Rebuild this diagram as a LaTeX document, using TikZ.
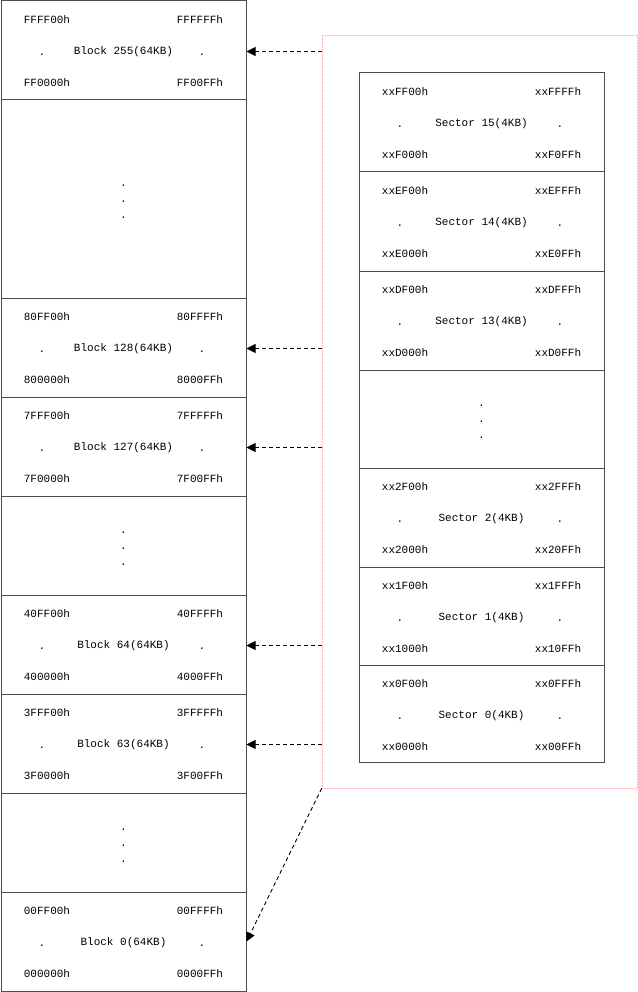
\documentclass[tikz,border=0pt]{standalone}
\usepackage{fontspec}
\setmainfont{Liberation Mono}
\usetikzlibrary{arrows.meta}
\tikzset{
  cell/.style={draw=black!70, line width=1pt, rectangle, inner sep=0pt, minimum width=245pt, minimum height=99pt},
  lbl/.style={inner sep=0pt, font=\fontsize{11}{12}\selectfont},
  pinkbox/.style={draw=red!30, densely dotted, line width=0.6pt, rectangle, inner sep=0pt},
  link/.style={dashed, dash pattern=on 4pt off 3pt, line width=0.9pt, -{Triangle[length=9pt,width=9pt]}}
}
% #1 name, #2 left x, #3 top y, #4 height, #5 center text, #6 TL, #7 TR, #8 BL, #9 BR
\newcommand{\mblk}[9]{%
  \node[cell, minimum height=#4pt] (#1) at ({#2+122.5},{#3+#4/2}) {};
  \node[lbl] (#1tl) at ({#2+46},{#3+18.5}) {#6};
  \node[lbl] (#1tr) at ({#2+199},{#3+18.5}) {#7};
  \node[lbl] (#1dl) at ({#2+41},{#3+54}) {.};
  \node[lbl] (#1c)  at ({#2+122.5},{#3+50.5}) {#5};
  \node[lbl] (#1dr) at ({#2+201},{#3+54}) {.};
  \node[lbl] (#1bl) at ({#2+46},{#3+82}) {#8};
  \node[lbl] (#1br) at ({#2+199},{#3+82}) {#9};
}
% #1 name, #2 left x, #3 top y, #4 height
\newcommand{\mgap}[4]{%
  \node[cell, minimum height=#4pt] (#1) at ({#2+122.5},{#3+#4/2}) {};
  \node[lbl] (#1a) at ({#2+122.5},{#3+#4/2-13}) {.};
  \node[lbl] (#1b) at ({#2+122.5},{#3+#4/2+3}) {.};
  \node[lbl] (#1c) at ({#2+122.5},{#3+#4/2+19}) {.};
}
\begin{document}
\begin{tikzpicture}[x=1pt,y=-1pt]
\useasboundingbox (0,0) rectangle (637,992);
% left column
\mblk{b255}{1}{1}{99}{Block 255(64KB)}{FFFF00h}{FFFFFFh}{FF0000h}{FF00FFh}
\mgap{g1}{1}{100}{198}
\mblk{b128}{1}{298}{99}{Block 128(64KB)}{80FF00h}{80FFFFh}{800000h}{8000FFh}
\mblk{b127}{1}{397}{99}{Block 127(64KB)}{7FFF00h}{7FFFFFh}{7F0000h}{7F00FFh}
\mgap{g2}{1}{496}{99}
\mblk{b64}{1}{595}{99}{Block 64(64KB)}{40FF00h}{40FFFFh}{400000h}{4000FFh}
\mblk{b63}{1}{694}{99}{Block 63(64KB)}{3FFF00h}{3FFFFFh}{3F0000h}{3F00FFh}
\mgap{g3}{1}{793}{99}
\mblk{b0}{1}{892}{99}{Block 0(64KB)}{00FF00h}{00FFFFh}{000000h}{0000FFh}
% pink region
\node[pinkbox, minimum width=315pt, minimum height=753pt] (pk) at (479.5,411.5) {};
% sector column
\mblk{s15}{359}{73}{99}{Sector 15(4KB)}{xxFF00h}{xxFFFFh}{xxF000h}{xxF0FFh}
\mblk{s14}{359}{172}{99}{Sector 14(4KB)}{xxEF00h}{xxEFFFh}{xxE000h}{xxE0FFh}
\mblk{s13}{359}{271}{99}{Sector 13(4KB)}{xxDF00h}{xxDFFFh}{xxD000h}{xxD0FFh}
\mgap{sg}{359}{370}{98}
\mblk{s2}{359}{468}{99}{Sector 2(4KB)}{xx2F00h}{xx2FFFh}{xx2000h}{xx20FFh}
\mblk{s1}{359}{567}{98}{Sector 1(4KB)}{xx1F00h}{xx1FFFh}{xx1000h}{xx10FFh}
\mblk{s0}{359}{665}{97}{Sector 0(4KB)}{xx0F00h}{xx0FFFh}{xx0000h}{xx00FFh}
% links
\draw[link] (pk.west |- b255c) -- (b255.east |- b255c);
\draw[link] (pk.west |- b128c) -- (b128.east |- b128c);
\draw[link] (pk.west |- b127c) -- (b127.east |- b127c);
\draw[link] (pk.west |- b64c) -- (b64.east |- b64c);
\draw[link] (pk.west |- b63c) -- (b63.east |- b63c);
\draw[link] (pk.south west) -- (b0.east);
\end{tikzpicture}
\end{document}
